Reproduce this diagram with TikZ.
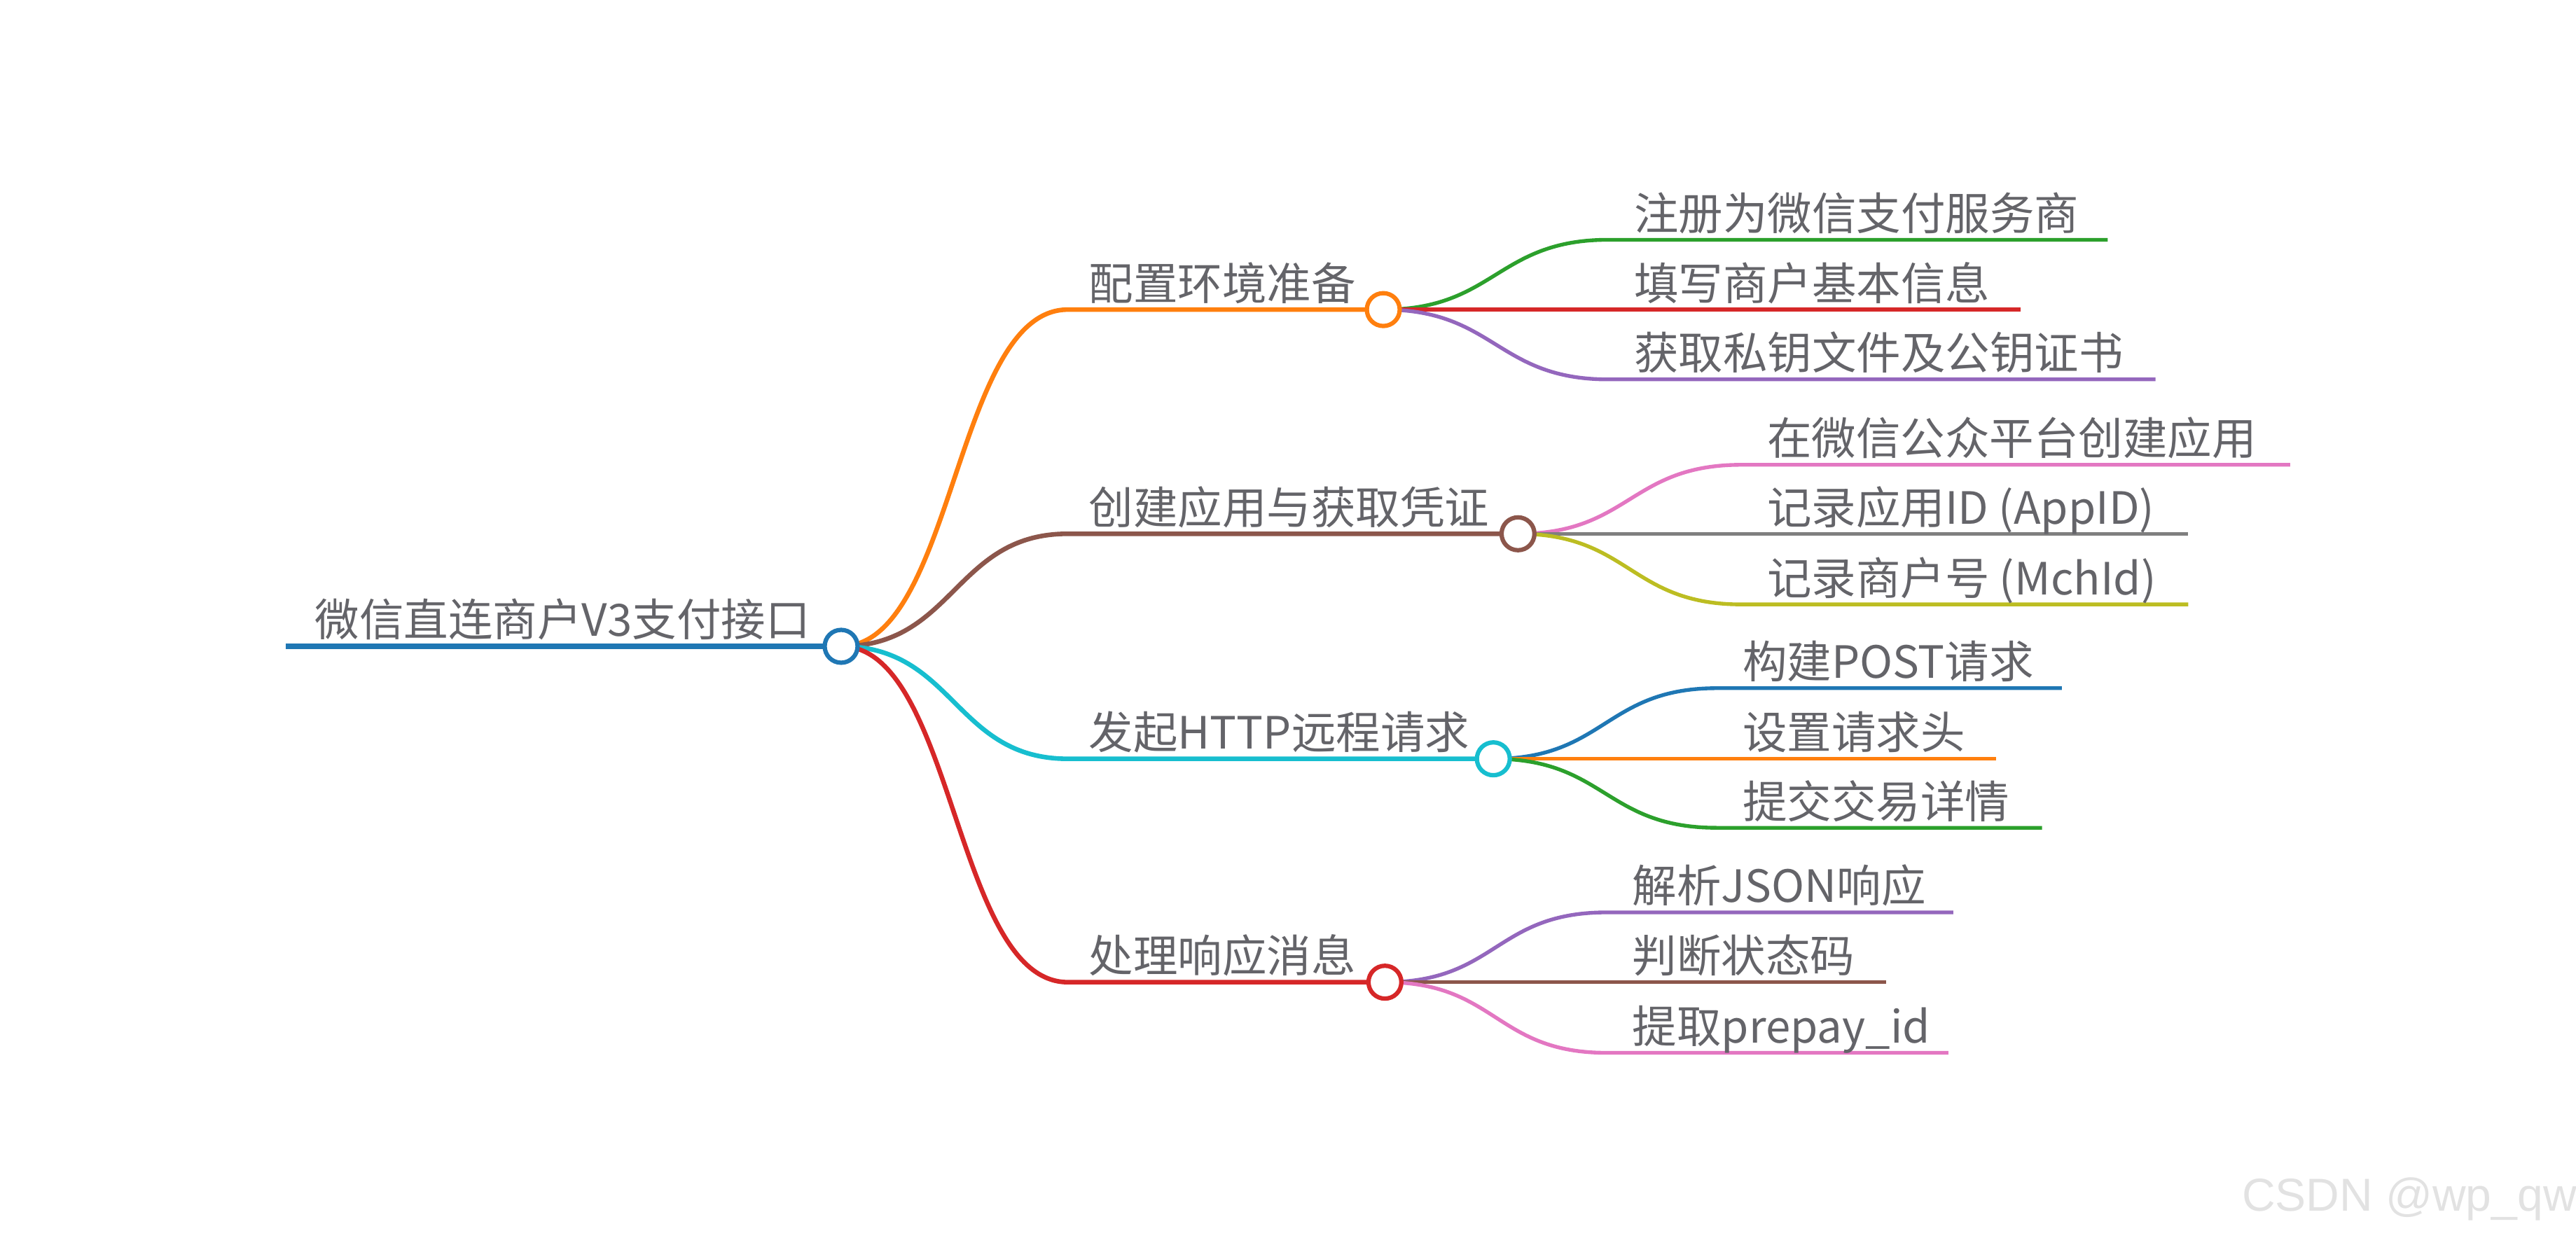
\documentclass[tikz,border=0pt]{standalone}
\usepackage{fontspec}
\setmainfont{Noto Sans CJK SC}
\newfontfamily\wmfont{Liberation Sans}
\usetikzlibrary{backgrounds}
\definecolor{cblue}{HTML}{1F77B4}
\definecolor{corange}{HTML}{FF7F0E}
\definecolor{cgreen}{HTML}{2CA02C}
\definecolor{cred}{HTML}{D62728}
\definecolor{cpurple}{HTML}{9467BD}
\definecolor{cbrown}{HTML}{8C564B}
\definecolor{cpink}{HTML}{E377C2}
\definecolor{cgray}{HTML}{7F7F7F}
\definecolor{colive}{HTML}{BCBD22}
\definecolor{ccyan}{HTML}{17BECF}
\definecolor{textgray}{RGB}{100,100,105}
\definecolor{wmgray}{RGB}{226,226,226}
\begin{document}
\begin{tikzpicture}[x=0.01cm,y=-0.01cm,
    txt/.style={anchor=base west,inner sep=0pt,text=textgray,font=\fontsize{7.7pt}{9pt}\selectfont},
    dot/.style={circle,draw,fill=white,minimum size=0.2cm,inner sep=0pt,line width=0.75pt},
    lvl0/.style={line width=1.05pt},
    lvl1/.style={line width=0.8pt},
    lvl2/.style={line width=0.65pt}]
  \useasboundingbox (0,0) rectangle (1568,753.7);

  \node[dot,draw=cblue] (root) at (512,393.5) {};
  \node[dot,draw=corange] (env) at (842,188.5) {};
  \node[dot,draw=cbrown] (app) at (924,325) {};
  \node[dot,draw=ccyan] (http) at (909,462) {};
  \node[dot,draw=cred] (resp) at (843,598) {};

  \coordinate (rootL) at (174,393.5);
  \coordinate (envL) at (650,188.5);
  \coordinate (appL) at (650,325);
  \coordinate (httpL) at (650,462);
  \coordinate (respL) at (650,598);

  \coordinate (env1L) at (979,146);   \coordinate (env1R) at (1283,146);
  \coordinate (env2L) at (979,188.5); \coordinate (env2R) at (1230,188.5);
  \coordinate (env3L) at (979,231);   \coordinate (env3R) at (1312,231);
  \coordinate (app1L) at (1060,283);  \coordinate (app1R) at (1394,283);
  \coordinate (app2L) at (1060,325);  \coordinate (app2R) at (1332,325);
  \coordinate (app3L) at (1060,368);  \coordinate (app3R) at (1332,368);
  \coordinate (http1L) at (1045,419); \coordinate (http1R) at (1255,419);
  \coordinate (http2L) at (1045,462); \coordinate (http2R) at (1215,462);
  \coordinate (http3L) at (1045,504); \coordinate (http3R) at (1243,504);
  \coordinate (resp1L) at (978,555.5); \coordinate (resp1R) at (1189,555.5);
  \coordinate (resp2L) at (978,598);   \coordinate (resp2R) at (1148,598);
  \coordinate (resp3L) at (978,641);   \coordinate (resp3R) at (1186,641);

  \node[txt] (rootT) at (191,387.5) {微信直连商户V3支付接口};
  \node[txt] (envT) at (662,182.5) {配置环境准备};
  \node[txt] (appT) at (662,319) {创建应用与获取凭证};
  \node[txt] (httpT) at (662,456) {发起HTTP远程请求};
  \node[txt] (respT) at (662,592) {处理响应消息};

  \node[txt] (env1T) at (994,140) {注册为微信支付服务商};
  \node[txt] (env2T) at (994,182.5) {填写商户基本信息};
  \node[txt] (env3T) at (994,225) {获取私钥文件及公钥证书};
  \node[txt] (app1T) at (1075,277) {在微信公众平台创建应用};
  \node[txt] (app2T) at (1075,319) {记录应用ID (AppID)};
  \node[txt] (app3T) at (1075,362) {记录商户号 (MchId)};
  \node[txt] (http1T) at (1060,413) {构建POST请求};
  \node[txt] (http2T) at (1060,456) {设置请求头};
  \node[txt] (http3T) at (1060,498) {提交交易详情};
  \node[txt] (resp1T) at (993,549.5) {解析JSON响应};
  \node[txt] (resp2T) at (993,592) {判断状态码};
  \node[txt] (resp3T) at (993,635) {提取prepay\_id};

  \begin{scope}[on background layer]
    \draw[lvl0,cblue] (rootL) -- (root.center);
    \draw[lvl1,corange] (root.center) .. controls +(69,0) and +(-69,0) .. (envL) -- (env.center);
    \draw[lvl1,cbrown] (root.center) .. controls +(69,0) and +(-69,0) .. (appL) -- (app.center);
    \draw[lvl1,ccyan] (root.center) .. controls +(69,0) and +(-69,0) .. (httpL) -- (http.center);
    \draw[lvl1,cred] (root.center) .. controls +(69,0) and +(-69,0) .. (respL) -- (resp.center);

    \draw[lvl2,cgreen] (env.center) .. controls +(68,0) and +(-68,0) .. (env1L) -- (env1R);
    \draw[lvl2,cred] (env.center) .. controls +(68,0) and +(-68,0) .. (env2L) -- (env2R);
    \draw[lvl2,cpurple] (env.center) .. controls +(68,0) and +(-68,0) .. (env3L) -- (env3R);
    \draw[lvl2,cpink] (app.center) .. controls +(68,0) and +(-68,0) .. (app1L) -- (app1R);
    \draw[lvl2,cgray] (app.center) .. controls +(68,0) and +(-68,0) .. (app2L) -- (app2R);
    \draw[lvl2,colive] (app.center) .. controls +(68,0) and +(-68,0) .. (app3L) -- (app3R);
    \draw[lvl2,cblue] (http.center) .. controls +(68,0) and +(-68,0) .. (http1L) -- (http1R);
    \draw[lvl2,corange] (http.center) .. controls +(68,0) and +(-68,0) .. (http2L) -- (http2R);
    \draw[lvl2,cgreen] (http.center) .. controls +(68,0) and +(-68,0) .. (http3L) -- (http3R);
    \draw[lvl2,cpurple] (resp.center) .. controls +(68,0) and +(-68,0) .. (resp1L) -- (resp1R);
    \draw[lvl2,cbrown] (resp.center) .. controls +(68,0) and +(-68,0) .. (resp2L) -- (resp2R);
    \draw[lvl2,cpink] (resp.center) .. controls +(68,0) and +(-68,0) .. (resp3L) -- (resp3R);
  \end{scope}

  \node[anchor=base west,inner sep=0pt,text=wmgray,font=\wmfont\fontsize{8pt}{9pt}\selectfont] (mark) at (1364,737.5) {CSDN @wp\_qw};
\end{tikzpicture}
\end{document}
